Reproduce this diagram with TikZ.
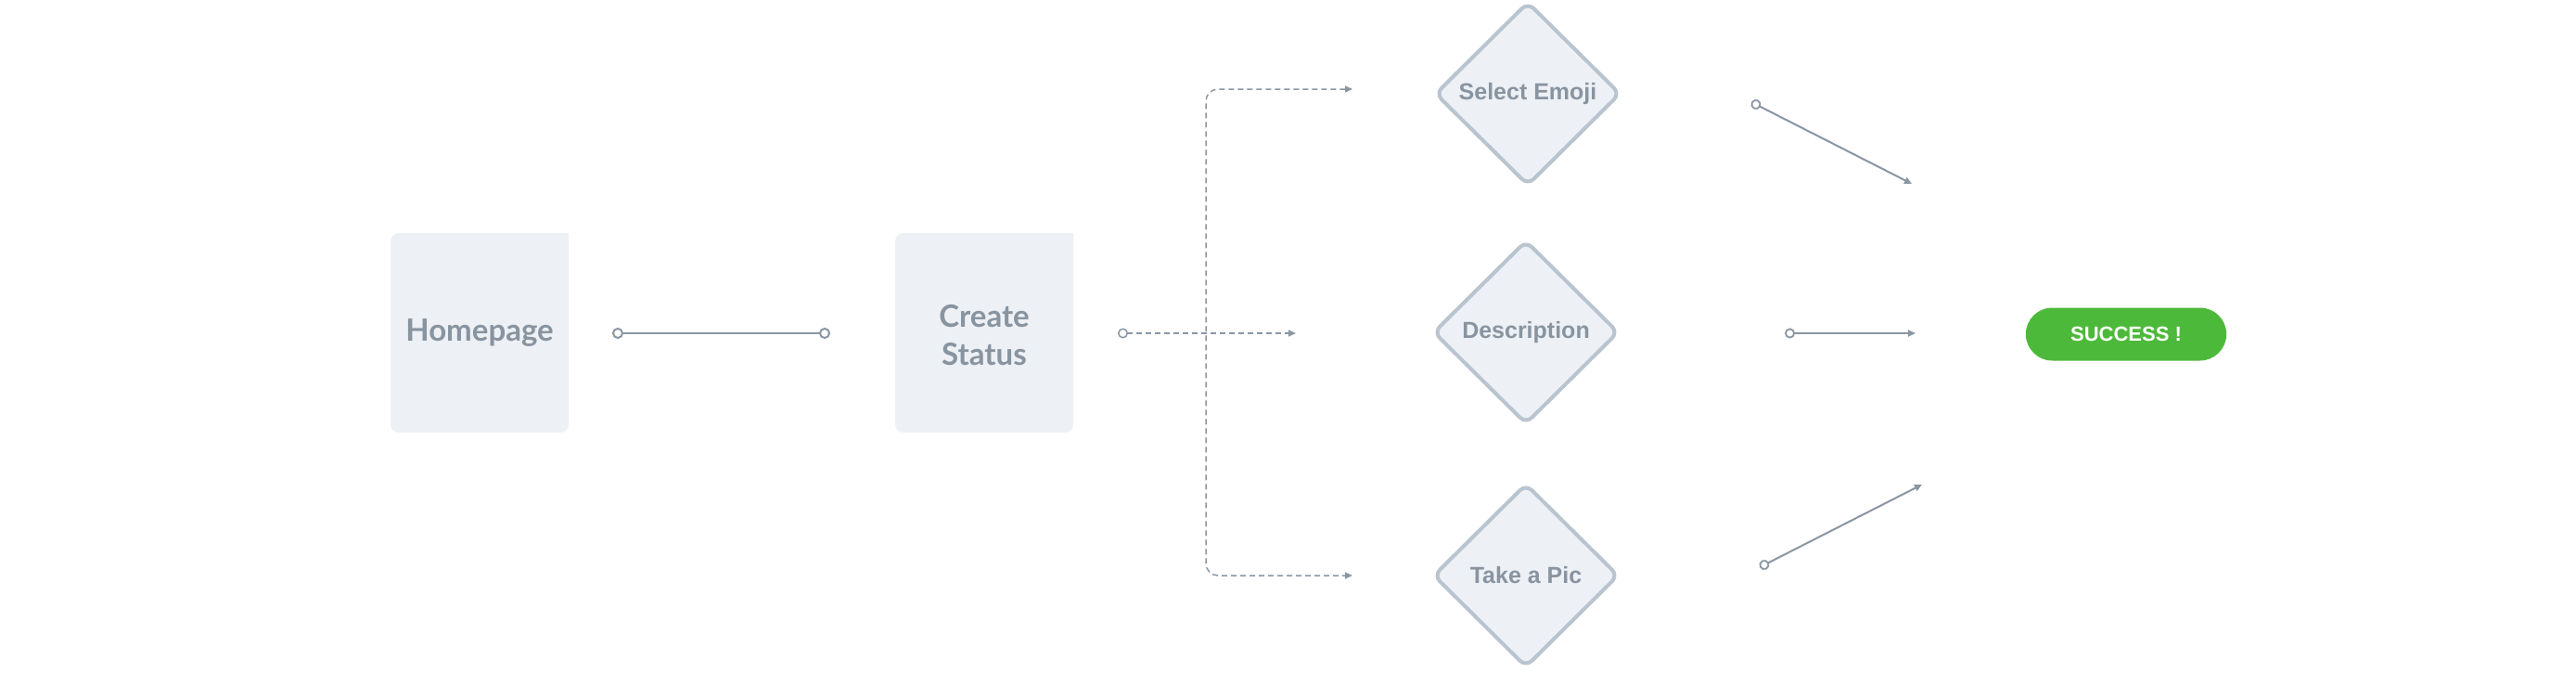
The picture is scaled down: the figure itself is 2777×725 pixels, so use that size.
\documentclass[tikz,border=0pt]{standalone}
\usepackage{fontspec}
\setmainfont{Lato}
\newfontfamily\stepfont{Liberation Sans}
\usetikzlibrary{shapes.geometric,shapes.misc,arrows.meta}
\definecolor{boxfill}{HTML}{EDF0F5}
\definecolor{boxtext}{HTML}{8894A0}
\definecolor{edgegray}{HTML}{B9C4CF}
\definecolor{linegray}{HTML}{8A96A2}
\definecolor{okgreen}{HTML}{4DB93A}

\tikzset{
  pagetext/.style={text=boxtext,font=\fontsize{33}{41}\selectfont\bfseries,align=center},
  choice/.style={diamond,fill=boxfill,draw=edgegray,line width=4pt,rounded corners=9pt,
    minimum width=200pt,minimum height=198pt,inner sep=0pt,text=boxtext,
    font=\stepfont\fontsize{25}{30}\selectfont\bfseries},
  done/.style={rounded rectangle,fill=okgreen,minimum width=223pt,minimum height=57pt,
    text=white,font=\stepfont\fontsize{22}{26}\selectfont\bfseries},
  wire/.style={draw=linegray,line width=2pt,
    {Circle[open,length=11pt,width=11pt,line width=1.8pt]}-{Triangle[length=8pt,width=7pt]}},
  dots/.style={draw=linegray,line width=1.5pt,dash pattern=on 6pt off 4pt}
}

\begin{document}
\begin{tikzpicture}[x=1pt,y=-1pt]
  \useasboundingbox (0,0) rectangle (2777,725);
  %BOXES
  \fill[boxfill,rounded corners=9pt] (421,466) -- (421,251) [sharp corners] -- (613,251) [rounded corners=9pt] -- (613,466) -- cycle;
  \node[pagetext] (home) at (517,359) {Homepage};
  \fill[boxfill,rounded corners=9pt] (965,466) -- (965,251) [sharp corners] -- (1157,251) [rounded corners=9pt] -- (1157,466) -- cycle;
  \node[pagetext] (create) at (1061,361) {Create\\Status};

  %HOMEPAGE -> CREATE
  \coordinate (h1) at (660,359);
  \coordinate (h2) at (895,359);
  \draw[draw=linegray,line width=2.5pt,
    {Circle[open,length=12pt,width=12pt,line width=2pt]}-{Circle[open,length=12pt,width=12pt,line width=2pt]}] (h1) -- (h2);

  %DIAMONDS
  \node[choice] (emoji) at (1647,101) {Select Emoji};
  \node[choice] (desc) at (1645,358) {Description};
  \node[choice] (pic) at (1645,620) {Take a Pic};

  %DASHED FORK
  \coordinate (c0) at (1205,359);
  \coordinate (c1) at (1397,359);
  \coordinate (c2) at (1458,96);
  \coordinate (c3) at (1458,620);
  \draw[dots,{Circle[open,length=11pt,width=11pt,line width=1.5pt]}-{Triangle[length=8pt,width=7pt]}] (c0) -- (c1);
  \draw[dots,rounded corners=13pt,{Triangle[length=8pt,width=7pt]}-{Triangle[length=8pt,width=7pt]}] (c2) -- (1300,96) -- (1300,620) -- (c3);

  %TO SUCCESS
  \coordinate (e1) at (1888,110);
  \coordinate (e2) at (2061,198);
  \coordinate (d1) at (1924,359);
  \coordinate (d2) at (2065,359);
  \coordinate (p1) at (1897,611);
  \coordinate (p2) at (2072,522);
  \draw[wire] (e1) -- (e2);
  \draw[wire] (d1) -- (d2);
  \draw[wire] (p1) -- (p2);

  \node[done] (ok) at (2292,360) {SUCCESS !};
\end{tikzpicture}
\end{document}
